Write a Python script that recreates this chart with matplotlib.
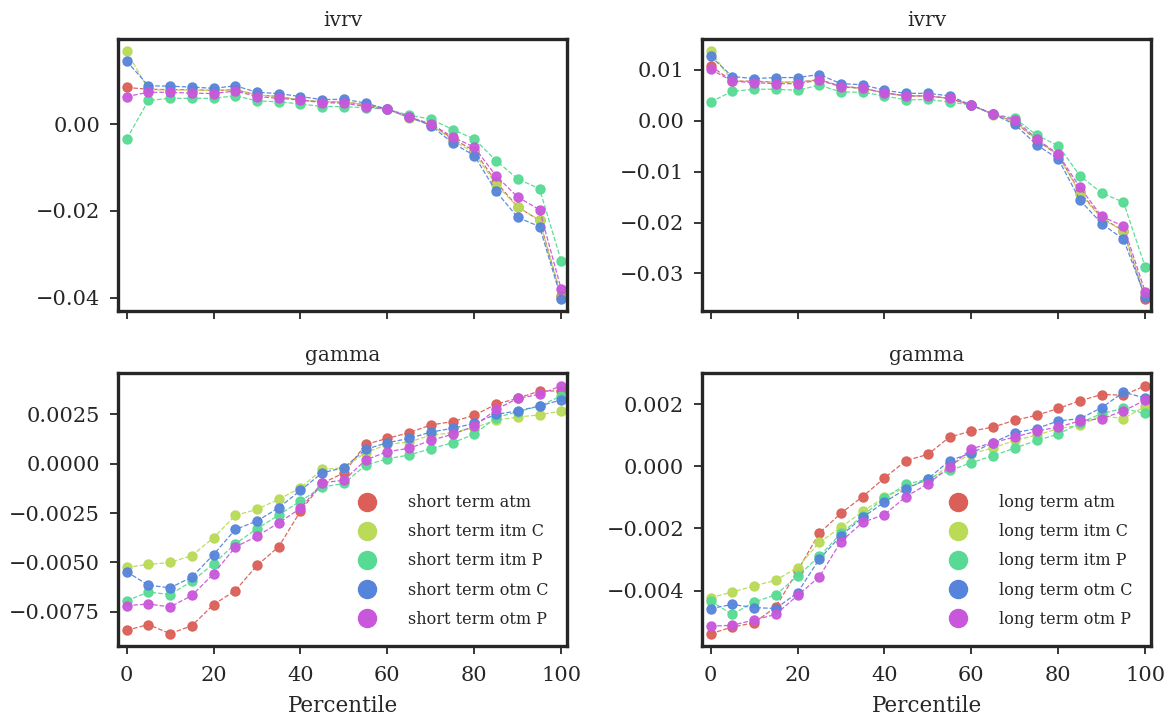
import matplotlib
matplotlib.use("Agg")
import matplotlib.pyplot as plt
from matplotlib.lines import Line2D
import seaborn as sns
import numpy as np

sns.set_theme(style="ticks")
plt.rcParams['font.family'] = ['DejaVu Serif']

percentile = list(range(0, 101, 5))
series_names = ["atm", "itm C", "itm P", "otm C", "otm P"]

# short term ivrv
st_ivrv_atm = [0.0085, 0.0081, 0.0080, 0.0080, 0.0078, 0.0080, 0.0068, 0.0064, 0.0056, 0.0052, 0.0052, 0.0045, 0.0035, 0.0016, 0.0000, -0.0033, -0.0061, -0.0133, -0.0191, -0.0222, -0.0397]
st_ivrv_itmC = [0.0169, 0.0080, 0.0079, 0.0079, 0.0078, 0.0080, 0.0068, 0.0064, 0.0056, 0.0052, 0.0052, 0.0045, 0.0035, 0.0014, 0.0000, -0.0037, -0.0066, -0.0139, -0.0191, -0.0221, -0.0400]
st_ivrv_itmP = [-0.0034, 0.0055, 0.0060, 0.0060, 0.0060, 0.0066, 0.0054, 0.0052, 0.0047, 0.0041, 0.0041, 0.0038, 0.0035, 0.0021, 0.0012, -0.0012, -0.0034, -0.0084, -0.0126, -0.0149, -0.0316]
st_ivrv_otmC = [0.0146, 0.0089, 0.0088, 0.0086, 0.0083, 0.0089, 0.0074, 0.0071, 0.0064, 0.0057, 0.0058, 0.0049, 0.0035, 0.0017, -0.0003, -0.0043, -0.0072, -0.0155, -0.0215, -0.0236, -0.0403]
st_ivrv_otmP = [0.0064, 0.0074, 0.0074, 0.0072, 0.0071, 0.0077, 0.0064, 0.0060, 0.0056, 0.0050, 0.0049, 0.0041, 0.0035, 0.0017, 0.0001, -0.0029, -0.0053, -0.0119, -0.0168, -0.0197, -0.0381]

# long term ivrv
lt_ivrv_atm = [0.0108, 0.0078, 0.0078, 0.0076, 0.0076, 0.0081, 0.0068, 0.0064, 0.0055, 0.0049, 0.0049, 0.0044, 0.0031, 0.0013, -0.0002, -0.0038, -0.0068, -0.0140, -0.0191, -0.0216, -0.0350]
lt_ivrv_itmC = [0.0137, 0.0078, 0.0077, 0.0076, 0.0076, 0.0080, 0.0067, 0.0063, 0.0055, 0.0048, 0.0049, 0.0044, 0.0031, 0.0012, -0.0002, -0.0036, -0.0068, -0.0143, -0.0193, -0.0216, -0.0342]
lt_ivrv_itmP = [0.0037, 0.0058, 0.0062, 0.0062, 0.0060, 0.0070, 0.0057, 0.0056, 0.0049, 0.0041, 0.0042, 0.0037, 0.0031, 0.0013, 0.0005, -0.0028, -0.0049, -0.0108, -0.0142, -0.0160, -0.0287]
lt_ivrv_otmC = [0.0127, 0.0087, 0.0083, 0.0085, 0.0085, 0.0091, 0.0073, 0.0071, 0.0060, 0.0054, 0.0054, 0.0049, 0.0031, 0.0013, -0.0007, -0.0047, -0.0075, -0.0156, -0.0202, -0.0233, -0.0346]
lt_ivrv_otmP = [0.0101, 0.0078, 0.0075, 0.0073, 0.0073, 0.0080, 0.0067, 0.0064, 0.0055, 0.0049, 0.0049, 0.0044, 0.0031, 0.0013, 0.0002, -0.0035, -0.0066, -0.0131, -0.0188, -0.0207, -0.0336]

# short term gamma
st_gamma_atm = [-0.00843, -0.00814, -0.00860, -0.00820, -0.00713, -0.00642, -0.00515, -0.00420, -0.00240, -0.00100, -0.00046, 0.00098, 0.00128, 0.00157, 0.00196, 0.00213, 0.00245, 0.00301, 0.00331, 0.00368, 0.00368]
st_gamma_itmC = [-0.00524, -0.00510, -0.00500, -0.00465, -0.00375, -0.00262, -0.00231, -0.00180, -0.00122, -0.00029, -0.00020, 0.00056, 0.00098, 0.00110, 0.00144, 0.00157, 0.00182, 0.00220, 0.00236, 0.00247, 0.00267]
st_gamma_itmP = [-0.00693, -0.00650, -0.00662, -0.00595, -0.00507, -0.00405, -0.00329, -0.00260, -0.00189, -0.00118, -0.00100, -0.00007, 0.00025, 0.00044, 0.00076, 0.00106, 0.00149, 0.00233, 0.00263, 0.00292, 0.00343]
st_gamma_otmC = [-0.00547, -0.00615, -0.00628, -0.00574, -0.00460, -0.00333, -0.00290, -0.00223, -0.00135, -0.00046, -0.00020, 0.00073, 0.00106, 0.00128, 0.00160, 0.00179, 0.00204, 0.00250, 0.00267, 0.00292, 0.00323]
st_gamma_otmP = [-0.00718, -0.00710, -0.00725, -0.00667, -0.00557, -0.00422, -0.00367, -0.00299, -0.00226, -0.00096, -0.00084, 0.00019, 0.00061, 0.00078, 0.00118, 0.00149, 0.00190, 0.00275, 0.00330, 0.00351, 0.00394]

# long term gamma
lt_gamma_atm = [-0.00539, -0.00518, -0.00504, -0.00453, -0.00337, -0.00215, -0.00151, -0.00097, -0.00037, 0.00019, 0.00039, 0.00095, 0.00114, 0.00127, 0.00149, 0.00165, 0.00187, 0.00212, 0.00232, 0.00230, 0.00260]
lt_gamma_itmC = [-0.00423, -0.00405, -0.00385, -0.00367, -0.00326, -0.00245, -0.00196, -0.00145, -0.00099, -0.00067, -0.00045, 0.00003, 0.00041, 0.00060, 0.00084, 0.00101, 0.00122, 0.00133, 0.00164, 0.00154, 0.00194]
lt_gamma_itmP = [-0.00434, -0.00477, -0.00437, -0.00414, -0.00353, -0.00290, -0.00216, -0.00159, -0.00101, -0.00058, -0.00040, -0.00013, 0.00012, 0.00035, 0.00059, 0.00084, 0.00104, 0.00140, 0.00171, 0.00187, 0.00171]
lt_gamma_otmC = [-0.00458, -0.00445, -0.00455, -0.00458, -0.00407, -0.00299, -0.00223, -0.00164, -0.00115, -0.00072, -0.00040, 0.00019, 0.00043, 0.00077, 0.00109, 0.00122, 0.00147, 0.00154, 0.00190, 0.00239, 0.00221]
lt_gamma_otmP = [-0.00515, -0.00512, -0.00495, -0.00477, -0.00416, -0.00356, -0.00242, -0.00180, -0.00155, -0.00097, -0.00056, -0.00002, 0.00057, 0.00077, 0.00095, 0.00114, 0.00127, 0.00147, 0.00154, 0.00179, 0.00214]

ytick_sets = [
    [-0.04, -0.02, 0.00],
    [-0.03, -0.02, -0.01, 0.00, 0.01],
    [-0.0075, -0.0050, -0.0025, 0.0000, 0.0025],
    [-0.004, -0.002, 0.000, 0.002],
]
xticks = [0, 20, 40, 60, 80, 100]

panels = [
    ("ivrv", [st_ivrv_atm, st_ivrv_itmC, st_ivrv_itmP, st_ivrv_otmC, st_ivrv_otmP], None),
    ("ivrv", [lt_ivrv_atm, lt_ivrv_itmC, lt_ivrv_itmP, lt_ivrv_otmC, lt_ivrv_otmP], None),
    ("gamma", [st_gamma_atm, st_gamma_itmC, st_gamma_itmP, st_gamma_otmC, st_gamma_otmP], "short term"),
    ("gamma", [lt_gamma_atm, lt_gamma_itmC, lt_gamma_itmP, lt_gamma_otmC, lt_gamma_otmP], "long term"),
]

colors = sns.color_palette("hls", 5)

fig, axes = plt.subplots(2, 2, figsize=(11.7, 7.17), dpi=100, sharex='col')
fig.subplots_adjust(left=0.101, right=0.984, top=0.946, bottom=0.099, hspace=0.228, wspace=0.30)

for ax, (title, data, legprefix), yt in zip(axes.flat, panels, ytick_sets):
    for vals, c in zip(data, colors):
        ax.plot(percentile, vals, linestyle='--', linewidth=0.9, marker='o',
                markersize=6.5, color=c, alpha=0.95)
    ax.set_title(title, fontsize=14.5, pad=9)
    ax.set_xlim(-1.95, 101.4)
    ax.set_yticks(yt)
    ax.set_xticks(xticks)
    ax.tick_params(labelsize=15, width=1.3, length=5.5, color='#262626')
    ax.tick_params(axis='x', pad=9)
    ax.tick_params(axis='y', pad=7.5)
    for sp in ax.spines.values():
        sp.set_linewidth(2.4)
        sp.set_color('#262626')
    if legprefix:
        handles = [Line2D([], [], linestyle='', marker='o', markersize=13, color=c)
                   for c in colors]
        labels = [f"{legprefix} {n}" for n in series_names]
        ax.legend(handles, labels, loc='lower right', frameon=False, fontsize=11.5,
                  handletextpad=1.6, labelspacing=0.76, borderaxespad=0.75)

for ax in axes[1]:
    ax.set_xlabel("Percentile", fontsize=15.5, labelpad=7)

fig.savefig("out.png", dpi=100)
